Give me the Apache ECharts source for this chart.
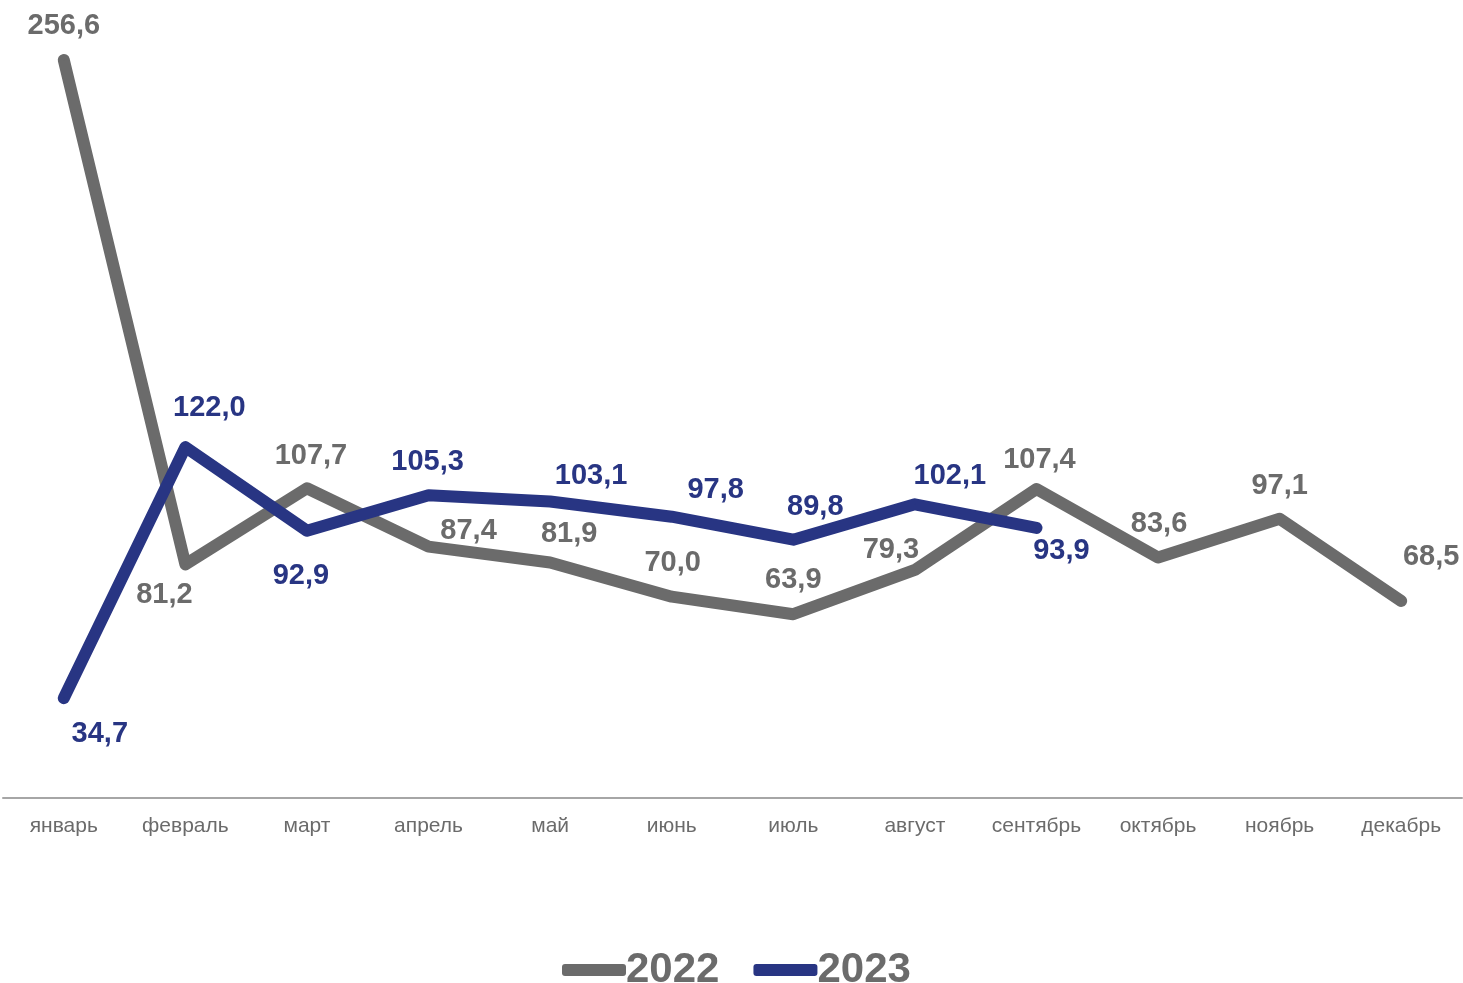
<!DOCTYPE html>
<html>
<head>
<meta charset="utf-8">
<script src="https://cdn.jsdelivr.net/npm/echarts@6/dist/echarts.min.js"></script>
<style>
    html, body { margin: 0; padding: 0; background: #fff; }
    #chart { width: 1463px; height: 983px; }
</style>
</head>
<body>
<div id="chart"></div>
<script>
    const months = ['январь', 'февраль', 'март', 'апрель', 'май', 'июнь', 'июль', 'август', 'сентябрь', 'октябрь', 'ноябрь', 'декабрь']
    const values2022 = [256.6, 81.2, 107.7, 87.4, 81.9, 70.0, 63.9, 79.3, 107.4, 83.6, 97.1, 68.5]
    const values2023 = [34.7, 122.0, 92.9, 105.3, 103.1, 97.8, 89.8, 102.1, 93.9]

    // label offsets from each point (px)
    const offsets2022 = [[0, -34], [-21, 31], [4, -32], [40, -16], [19, -28], [1, -34], [0, -34], [-24, -20], [3, -29], [1, -34], [0, -33], [30, -44]]
    const offsets2023 = [[36, 36], [24, -39], [-6, 45], [-1, -33], [41, -25], [44, -27], [22, -33], [35, -28], [25, 23]]

    const grey = '#6b6b6b'
    const blue = '#283583'

    const fmt = v => v.toFixed(1).replace('.', ',')

    function buildData(values, offsets) {
        return values.map((v, i) => ({
            value: v,
            label: { offset: offsets[i] }
        }))
    }

    function makeSeries(name, values, offsets, color, z) {
        return {
            name: name,
            type: 'line',
            z: z,
            data: buildData(values, offsets),
            symbol: 'circle',
            symbolSize: 1,
            showSymbol: true,
            itemStyle: { color: color },
            lineStyle: { color: color, width: 12, cap: 'round', join: 'round' },
            label: {
                show: true,
                position: 'inside',
                align: 'center',
                verticalAlign: 'middle',
                fontFamily: 'Liberation Sans',
                fontSize: 29,
                fontWeight: 'bold',
                color: color,
                formatter: p => fmt(p.value)
            },
            emphasis: { disabled: true },
            animation: false
        }
    }

    const chart = echarts.init(document.getElementById('chart'))
    chart.setOption({
        backgroundColor: '#fff',
        grid: {
            left: 3,
            right: 1,
            top: 20,
            bottom: 185,
            containLabel: false
        },
        legend: {
            top: 944,
            left: 557,
            icon: 'roundRect',
            itemWidth: 64,
            itemHeight: 12,
            itemGap: 34,
            textStyle: {
                fontFamily: 'Liberation Sans',
                fontSize: 42,
                fontWeight: 'bold',
                color: grey,
                padding: [0, 0, 0, -5]
            },
            data: ['2022', '2023']
        },
        xAxis: {
            type: 'category',
            data: months,
            boundaryGap: true,
            axisLine: { lineStyle: { color: '#a6a6a6', width: 2 } },
            axisTick: { show: false },
            axisLabel: {
                margin: 18,
                fontFamily: 'Liberation Sans',
                fontSize: 21,
                color: grey
            }
        },
        yAxis: {
            type: 'value',
            min: 0,
            max: 270.5,
            show: false,
            splitLine: { show: false }
        },
        series: [
            makeSeries('2022', values2022, offsets2022, grey, 2),
            makeSeries('2023', values2023, offsets2023, blue, 3)
        ]
    })
</script>
</body>
</html>
